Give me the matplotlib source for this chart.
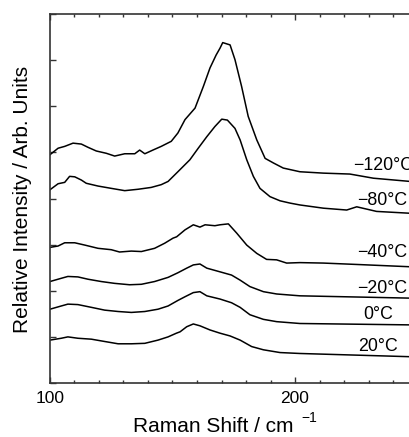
import numpy as np
import matplotlib.pyplot as plt
from matplotlib.ticker import MultipleLocator, NullFormatter

plt.rcParams['font.family'] = ['Liberation Sans', 'DejaVu Sans']

# spectra (stacked, arbitrary units)
x_m120 = [100, 103.3, 106, 109.4, 112.8, 115.5, 118.9, 123.0, 126.4, 130.5, 134.6, 136.6,
          138.7, 142.0, 145.4, 149.5, 152.2, 155.1, 159.2, 162.6, 165.3, 167.8, 169.4,
          170.5, 173.5, 175.5, 178.2, 180.9, 184.4, 187.8, 191.2, 195.2, 202.0, 211.6,
          222.4, 232.0, 247]
y_m120 = [4.95, 5.09, 5.13, 5.20, 5.18, 5.11, 5.03, 4.98, 4.92, 4.97, 4.97, 5.05,
          4.97, 5.05, 5.13, 5.24, 5.42, 5.71, 5.96, 6.43, 6.83, 7.11, 7.26,
          7.38, 7.33, 7.01, 6.43, 5.78, 5.27, 4.87, 4.77, 4.66, 4.58, 4.55,
          4.53, 4.44, 4.37]

x_m80 = [100, 103.3, 106, 108.0, 110.1, 112.8, 114.8, 119.6, 125.0, 130.5, 135.9, 141.3,
         145.4, 148.2, 152.2, 157.1, 160.5, 164.0, 167.3, 170.1, 172.4, 175.5, 177.6,
         180.3, 183.0, 185.7, 189.8, 193.9, 198.0, 202.0, 211.6, 221.1, 225.2, 233.3, 247]
y_m80 = [4.19, 4.32, 4.35, 4.48, 4.47, 4.40, 4.33, 4.27, 4.22, 4.17, 4.20, 4.24,
         4.30, 4.37, 4.58, 4.84, 5.09, 5.34, 5.56, 5.72, 5.70, 5.52, 5.27,
         4.84, 4.48, 4.22, 4.04, 3.95, 3.90, 3.86, 3.79, 3.75, 3.82, 3.72, 3.68]

x_m40 = [100, 103.3, 106, 110.1, 114.2, 119.6, 125.0, 128.4, 133.2, 137.3, 142.7, 146.8,
         150.2, 151.7, 155.1, 158.5, 161.2, 163.3, 167.3, 169.4, 172.8, 176.2, 180.3,
         184.4, 188.4, 192.5, 196.6, 202.0, 211.6, 225.2, 247]
y_m40 = [2.94, 2.97, 3.04, 3.04, 2.99, 2.92, 2.89, 2.84, 2.86, 2.85, 2.92, 3.03,
         3.14, 3.17, 3.32, 3.43, 3.38, 3.43, 3.41, 3.43, 3.45, 3.25, 2.99,
         2.81, 2.68, 2.67, 2.60, 2.61, 2.60, 2.57, 2.52]

x_m20 = [100, 104.6, 107.3, 111.4, 115.5, 120.9, 126.4, 132.5, 137.3, 142.7, 148.2,
         152.2, 155.8, 158.5, 161.2, 164.0, 169.4, 174.1, 177.6, 181.6, 187.1, 192.5,
         202.0, 247]
y_m20 = [2.20, 2.27, 2.31, 2.30, 2.25, 2.20, 2.16, 2.13, 2.14, 2.20, 2.29,
         2.39, 2.49, 2.56, 2.58, 2.49, 2.41, 2.34, 2.23, 2.09, 1.98, 1.93,
         1.89, 1.84]

x_0 = [100, 104.6, 107.3, 111.4, 116.9, 122.3, 127.8, 133.2, 138.7, 144.1, 148.2,
       152.2, 155.1, 158.5, 161.2, 164.0, 169.4, 174.1, 177.6, 181.6, 187.1, 192.5,
       202.0, 247]
y_0 = [1.60, 1.67, 1.71, 1.70, 1.64, 1.58, 1.55, 1.53, 1.55, 1.60, 1.67,
       1.79, 1.87, 1.96, 1.98, 1.89, 1.82, 1.74, 1.64, 1.48, 1.38, 1.33,
       1.29, 1.26]

x_20 = [100, 104.6, 107.3, 111.4, 116.9, 122.3, 127.8, 133.2, 138.7, 144.1, 148.2,
        151.6, 153.1, 155.8, 158.5, 161.2, 165.3, 169.4, 173.5, 177.6, 182.3, 187.1,
        193.9, 202.0, 247]
y_20 = [0.93, 0.97, 1.00, 0.97, 0.95, 0.90, 0.85, 0.85, 0.86, 0.93, 1.00,
        1.08, 1.11, 1.22, 1.28, 1.24, 1.15, 1.08, 1.02, 0.93, 0.79, 0.72,
        0.66, 0.64, 0.57]

labels = ['\u2212120\u00b0C', '\u221280\u00b0C', '\u221240\u00b0C',
          '\u221220\u00b0C', '0\u00b0C', '20\u00b0C']
label_x = [223.8, 225.4, 225.4, 225.4, 227.9, 225.8]
label_y = [4.61, 3.86, 2.74, 1.96, 1.38, 0.70]

series = [(x_m120, y_m120), (x_m80, y_m80), (x_m40, y_m40),
          (x_m20, y_m20), (x_0, y_0), (x_20, y_20)]

fig = plt.figure(figsize=(4.09, 4.37), dpi=100)
# right edge of the axes sits just past the figure border (cropped like the original)
ax = fig.add_axes([50 / 409, 54 / 437, 367.5 / 409, 369 / 437])

for (xs, ys) in series:
    ax.plot(xs, ys, color='black', lw=1.1)

for lab, lx, ly in zip(labels, label_x, label_y):
    ax.text(lx, ly, lab, fontsize=12.8, ha='left', va='baseline', clip_on=False)

ax.set_xlim(100, 250)
ax.set_ylim(0, 8)
ax.xaxis.set_major_locator(MultipleLocator(100))
ax.xaxis.set_minor_locator(MultipleLocator(10))
ax.yaxis.set_major_locator(MultipleLocator(1))
ax.yaxis.set_major_formatter(NullFormatter())
ax.tick_params(which='both', direction='in', top=True, right=False, labelsize=12.5,
               color='#333333', width=1.0, pad=6)
ax.tick_params(which='major', length=4)
ax.tick_params(which='minor', length=2.5)
for sp in ax.spines.values():
    sp.set_color('#333333')
    sp.set_linewidth(1.2)

# axis titles
fig.text(133 / 409, 5 / 437, 'Raman Shift / cm', fontsize=15,
         ha='left', va='baseline')
fig.text(301 / 409, 15 / 437, '\u22121', fontsize=10,
         ha='left', va='baseline')
fig.text(23 / 409, (437 - 199) / 437, 'Relative Intensity / Arb. Units', fontsize=15,
         ha='center', va='center', rotation=90)

fig.savefig('out.png', dpi=100)
